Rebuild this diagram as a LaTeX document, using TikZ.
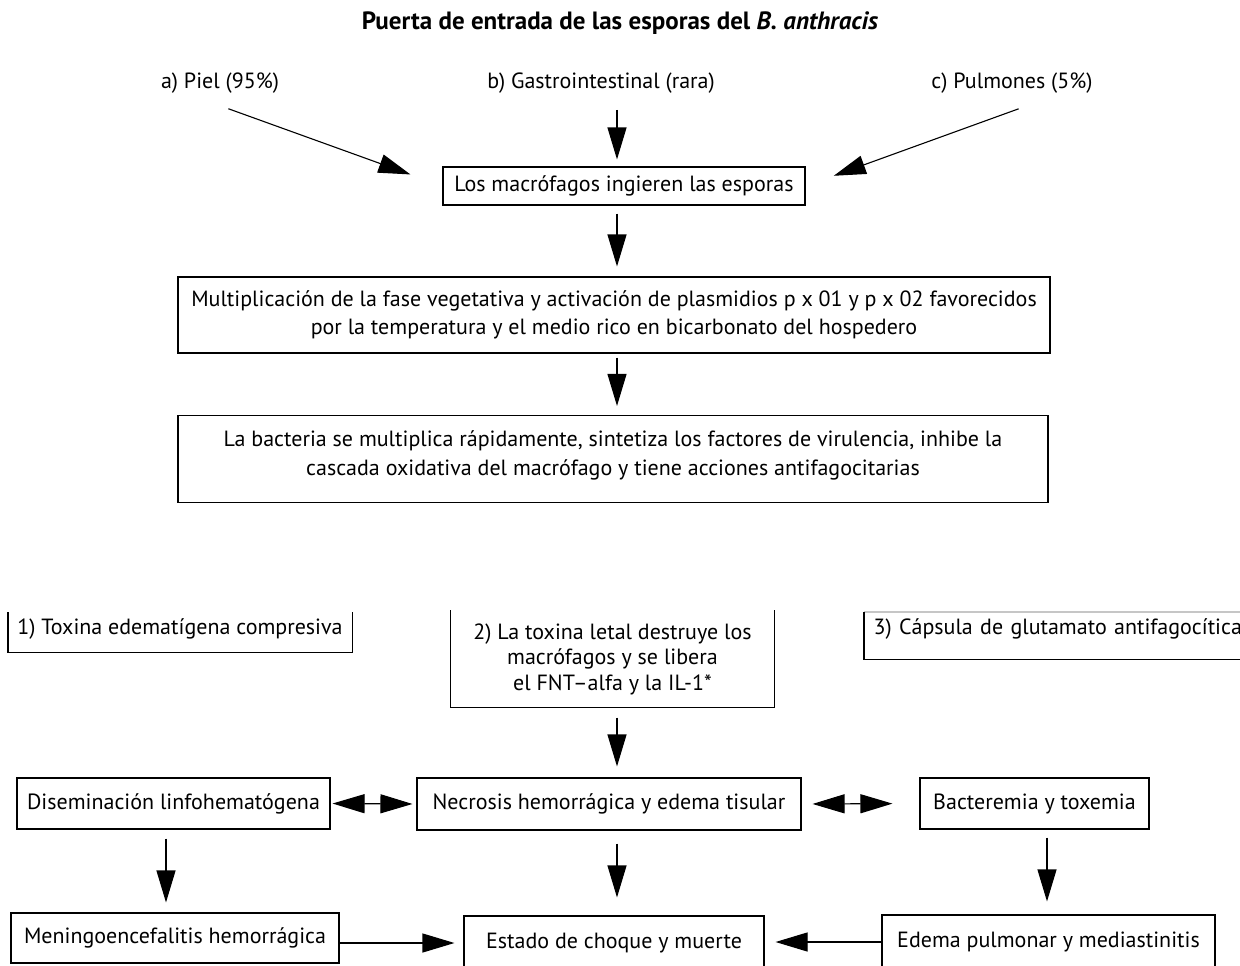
\documentclass[tikz,border=0pt]{standalone}
\usepackage{fontspec}
\setmainfont{PT Sans}
\usetikzlibrary{arrows.meta,positioning}

\begin{document}
\begin{tikzpicture}[x=1pt, y=-1pt, >={Triangle[length=32pt,width=19pt]}, line width=1.1pt]

    % Stili
    \tikzset{box/.style={draw, rectangle, align=center, inner sep=0pt, font=\fontsize{22}{28.5}\selectfont},
             txt/.style={inner sep=0pt, font=\fontsize{22}{25.5}\selectfont}}

    \useasboundingbox (0,0) rectangle (1240,966);

    % Titolo e porte d'ingresso
    \node[txt, font=\bfseries\fontsize{25}{30}\selectfont] (titulo) at (620,23) {Puerta de entrada de las esporas del \textit{B. anthracis}};
    \node[txt] (piel) at (220,83) {a) Piel (95\%)};
    \node[txt] (gastro) at (601,83) {b) Gastrointestinal (rara)};
    \node[txt] (pulmon) at (1012,83) {c) Pulmones (5\%)};

    % Blocchi centrali
    \node[box, minimum width=362pt, minimum height=38pt] (macro) at (624,186) {Los macrófagos ingieren las esporas};
    \node[box, minimum width=872pt, minimum height=76pt] (multi) at (614,315) {Multiplicación de la fase vegetativa y activación de plasmidios p x 01 y p x 02 favorecidos\\por la temperatura y el medio rico en bicarbonato del hospedero};
    \node[box, minimum width=870pt, minimum height=87pt] (bacteria) at (613,459) {La bacteria se multiplica rápidamente, sintetiza los factores de virulencia, inhibe la\\cascada oxidativa del macrófago y tiene acciones antifagocitarias\\[-17pt]\mbox{}};

    % Tossine (box aperti)
    \node[txt, anchor=north west, minimum width=343pt, text height=22pt, text depth=17pt] (tox1) at (8,612) {1) Toxina edematígena compresiva};
    \draw (tox1.north west) |- (tox1.south east) -- (tox1.north east);

    \node[txt, align=center, minimum width=323pt, minimum height=96pt] (tox2) at (612.5,659) {2) La toxina letal destruye los\\macrófagos y se libera\\el FNT–alfa y la IL-1*};
    \draw (tox2.north west) |- (tox2.south east) -- (tox2.north east);

    \node[txt, anchor=north west, text width=380pt, align=left, inner xsep=9pt, text height=22pt, text depth=24pt] (tox3) at (864,612) {3) Cápsula de glutamato antifagocítica};
    \draw[gray!45] (tox3.north west) -- (tox3.north east);
    \draw (tox3.north west) |- (tox3.south east);

    % Riga degli effetti
    \node[box, minimum width=313pt, minimum height=51pt] (disem) at (173.5,803.5) {Diseminación linfohematógena};
    \node[box, minimum width=384pt, minimum height=52pt] (necro) at (609,804) {Necrosis hemorrágica y edema tisular};
    \node[box, minimum width=229pt, minimum height=51pt] (bacter) at (1034.5,803.5) {Bacteremia y toxemia};

    \node[box, minimum width=328pt, minimum height=50pt] (menin) at (175,938) {Meningoencefalitis hemorrágica};
    \node[box, minimum width=300pt, minimum height=54pt] (estado) at (614,943) {Estado de choque y muerte};
    \node[box, minimum width=333pt, minimum height=54pt] (edema) at (1048.5,942) {Edema pulmonar y mediastinitis};

    % Frecce verso i macrofagi
    \coordinate (eje) at (617,0);
    \draw[->, shorten <=44pt, shorten >=34pt] ([xshift=-33pt]piel.south) -- (macro.west);
    \draw[->, shorten <=16pt, shorten >=7pt] (gastro.south -| eje) -- (macro.north -| eje);
    \draw[->, shorten <=44pt, shorten >=30pt] ([xshift=48pt]pulmon.south) -- (macro.east);

    % Percorso centrale
    \draw[->, shorten <=8pt, shorten >=10pt] (macro.south -| eje) -- (multi.north -| eje);
    \draw[->, shorten <=4pt, shorten >=9pt] (multi.south -| eje) -- (bacteria.north -| eje);
    \draw[->, shorten <=10pt, shorten >=11pt] (tox2.south -| eje) -- (necro.north -| eje);
    \draw[->, shorten <=13pt, shorten >=18pt] (necro.south -| eje) -- (estado.north -| eje);

    % Frecce laterali
    \draw[<->, shorten <=2pt, shorten >=4pt] (disem.east) -- (necro.west);
    \draw[<->, shorten <=11pt, shorten >=27pt] (necro.east) -- (bacter.west);

    \coordinate (dcol) at ([xshift=-7.5pt]disem.south);
    \coordinate (bcol) at ([xshift=12.5pt]bacter.south);
    \draw[->, shorten <=9pt, shorten >=10pt] (dcol) -- (dcol |- menin.north);
    \draw[->, shorten <=8pt, shorten >=13pt] (bcol) -- (bcol |- edema.north);

    \draw[->, shorten >=9pt] (estado.west -| menin.east) -- (estado.west);
    \draw[->, shorten >=11pt] (edema.west) -- (edema.west -| estado.east);

\end{tikzpicture}
\end{document}
